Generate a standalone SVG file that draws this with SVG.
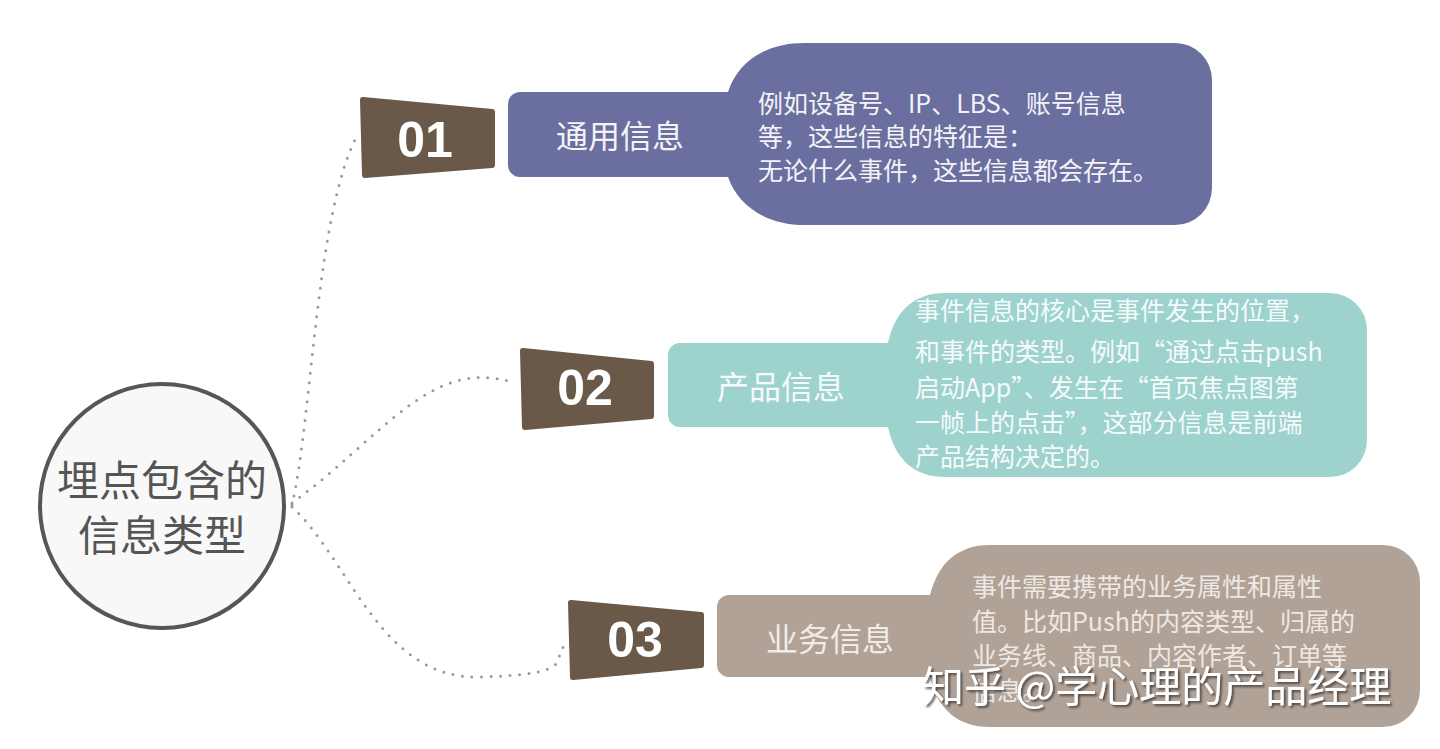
<svg xmlns="http://www.w3.org/2000/svg" width="1440" height="749" viewBox="0 0 1440 749">
<defs>
<style>
.cjk{font-family:"Noto Sans CJK SC","Noto Sans",sans-serif;}
.badge{fill:#6a5949;stroke:#6a5949;stroke-width:6;stroke-linejoin:round;}
.num{font-family:"Liberation Sans",Arial,sans-serif;font-weight:bold;font-size:50px;fill:#ffffff;text-anchor:middle;}
.lbl{font-size:32px;text-anchor:middle;}
.desc{font-size:25px;}
.conn{fill:none;stroke:#9a9a9a;stroke-width:3;stroke-linecap:round;stroke-dasharray:0 9.5;}
</style>
<filter id="sh" x="-5%" y="-20%" width="110%" height="140%">
<feDropShadow dx="2" dy="2" stdDeviation="1.2" flood-color="#333" flood-opacity="0.75"/>
</filter>
</defs>
<rect width="1440" height="749" fill="#ffffff"/>

<g id="connectors">
<path class="conn" d="M292,505 C312,420 316,210 358,134"/>
<path class="conn" d="M292,503 C380,440 430,355 515,383"/>
<path class="conn" d="M292,507 C350,560 380,680 480,677 S550,660 565,645"/>
</g>

<g id="root">
<circle cx="162" cy="506" r="122" fill="#f8f8f8" stroke="#5a5550" stroke-width="4"/>
<text class="cjk" x="162" y="496" font-size="42" fill="#555555" text-anchor="middle">埋点包含的</text>
<text class="cjk" x="162" y="551" font-size="42" fill="#555555" text-anchor="middle">信息类型</text>
</g>

<g id="node1">
<polygon class="badge" points="363,100 492,112 492,165 365,175"/>
<text class="num" x="425" y="157">01</text>
<path fill="#6b6f9f" d="M520,92 H728 C738,62 765,43 805,43 H1175 A37 37 0 0 1 1212 80 V188 A37 37 0 0 1 1175 225 H805 C765,225 738,205 728,177 H520 A12 12 0 0 1 508 165 V104 A12 12 0 0 1 520 92 Z"/>
<text class="cjk lbl" x="620" y="148" fill="#f3f3f8">通用信息</text>
<text class="cjk desc" fill="#f3f3f8"><tspan x="758" y="113">例如设备号、IP、LBS、账号信息</tspan><tspan x="758" y="146">等，这些信息的特征是：</tspan><tspan x="758" y="180">无论什么事件，这些信息都会存在。</tspan></text>
</g>

<g id="node2">
<polygon class="badge" points="523,351 651,364 651,416 525,427"/>
<text class="num" x="585" y="405">02</text>
<path fill="#9ed2cd" d="M680,343 H888 C895,310 915,293 945,293 H1330 A37 37 0 0 1 1367 330 V440 A37 37 0 0 1 1330 477 H945 C915,477 895,460 888,427 H680 A12 12 0 0 1 668 415 V355 A12 12 0 0 1 680 343 Z"/>
<text class="cjk lbl" x="781" y="399" fill="#f5fbfa">产品信息</text>
<text class="cjk desc" fill="#f5fbfa"><tspan x="915" y="320">事件信息的核心是事件发生的位置，</tspan><tspan x="915" y="361">和事件的类型。例如“通过点击push</tspan><tspan x="915" y="397">启动App”、发生在“首页焦点图第</tspan><tspan x="915" y="432">一帧上的点击”，这部分信息是前端</tspan><tspan x="915" y="466">产品结构决定的。</tspan></text>
</g>

<g id="node3">
<polygon class="badge" points="571,603 701,615 701,665 573,677"/>
<text class="num" x="635" y="657">03</text>
<path fill="#b1a297" d="M729,595 H930 C938,563 958,545 990,545 H1383 A37 37 0 0 1 1420 582 V690 A37 37 0 0 1 1383 727 H990 C958,727 938,710 930,677 H729 A12 12 0 0 1 717 665 V607 A12 12 0 0 1 729 595 Z"/>
<text class="cjk lbl" x="830" y="651" fill="#f1ece8">业务信息</text>
<text class="cjk desc" fill="#eee8e3"><tspan x="972" y="596">事件需要携带的业务属性和属性</tspan><tspan x="972" y="631">值。比如Push的内容类型、归属的</tspan><tspan x="972" y="665">业务线、商品、内容作者、订单等</tspan><tspan x="972" y="700">信息。</tspan></text>
</g>

<g id="watermark">
<text class="cjk" x="922" y="702" font-size="42" fill="#ffffff" filter="url(#sh)" xml:space="preserve">知乎 @学心理的产品经理</text>
</g>
</svg>
